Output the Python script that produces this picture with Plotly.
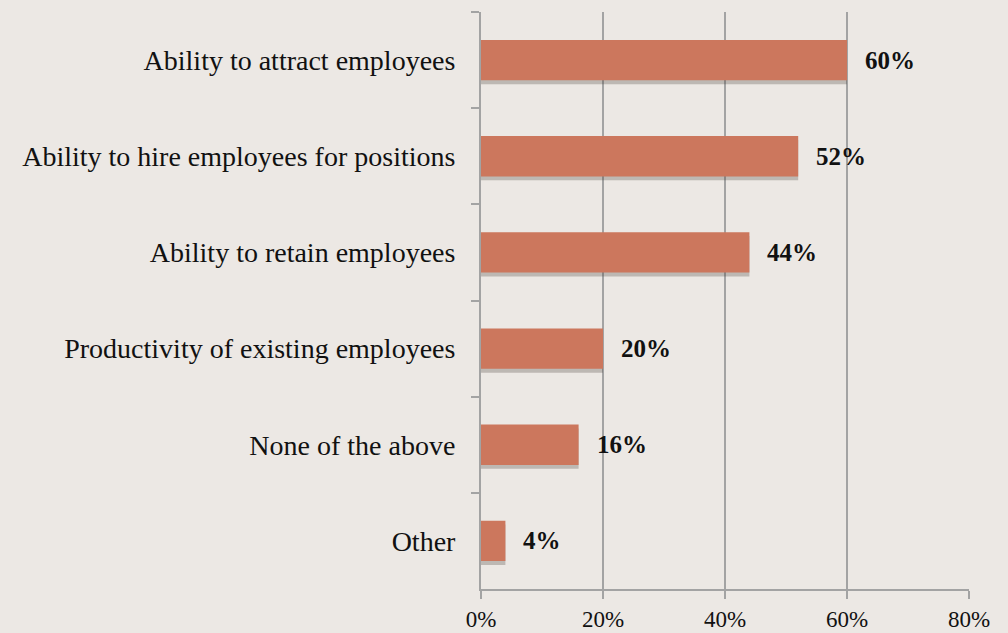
import plotly.graph_objects as go

categories = [
    "Ability to attract employees",
    "Ability to hire employees for positions",
    "Ability to retain employees",
    "Productivity of existing employees",
    "None of the above",
    "Other",
]
values = [60, 52, 44, 20, 16, 4]
x_ticks = [0, 20, 40, 60, 80]
x_tick_labels = ["0%", "20%", "40%", "60%", "80%"]

BG = "#ECE8E4"
BAR = "#CC775D"
GRID = "#A3A3A3"
SERIF = "Liberation Serif, Times New Roman, serif"
BAR_W = 0.42

fig = go.Figure()

# soft drop shadow under each bar
fig.add_trace(go.Bar(
    y=categories, x=values, orientation="h",
    width=BAR_W, offset=-BAR_W / 2 + 0.04,
    marker=dict(color="rgba(70,60,55,0.28)", line=dict(width=0)),
    hoverinfo="skip", showlegend=False,
))
fig.add_trace(go.Bar(
    y=categories, x=values, orientation="h",
    width=BAR_W, offset=-BAR_W / 2,
    marker=dict(color=BAR, line=dict(width=0)),
    showlegend=False,
))

for cat, v in zip(categories, values):
    fig.add_annotation(
        x=v, y=cat, text=f"<b>{v}%</b>", showarrow=False,
        xanchor="left", xshift=16,
        font=dict(family=SERIF, size=25, color="#111111"),
    )

fig.update_layout(
    width=1008, height=633,
    margin=dict(l=481, r=39, t=12, b=44),
    paper_bgcolor=BG, plot_bgcolor=BG,
    barmode="overlay",
    font=dict(family=SERIF, color="#111111"),
)
fig.update_xaxes(
    range=[0, 80], tickvals=x_ticks, ticktext=x_tick_labels,
    showgrid=True, gridcolor=GRID, gridwidth=2,
    showline=True, linecolor=GRID, linewidth=2,
    ticks="outside", ticklen=8, tickcolor=GRID, tickwidth=2,
    tickfont=dict(family=SERIF, size=23, color="#111111"),
    zeroline=False, fixedrange=True, automargin=False,
)
fig.update_yaxes(
    categoryorder="array", categoryarray=categories, autorange="reversed",
    showline=True, linecolor=GRID, linewidth=2,
    ticks="outside", ticklen=8, tickcolor=GRID, tickwidth=2,
    tickson="boundaries", ticklabelstandoff=18,
    tickfont=dict(family=SERIF, size=28, color="#111111"),
    showgrid=False, fixedrange=True, automargin=False,
)

fig.write_html("out.html")
